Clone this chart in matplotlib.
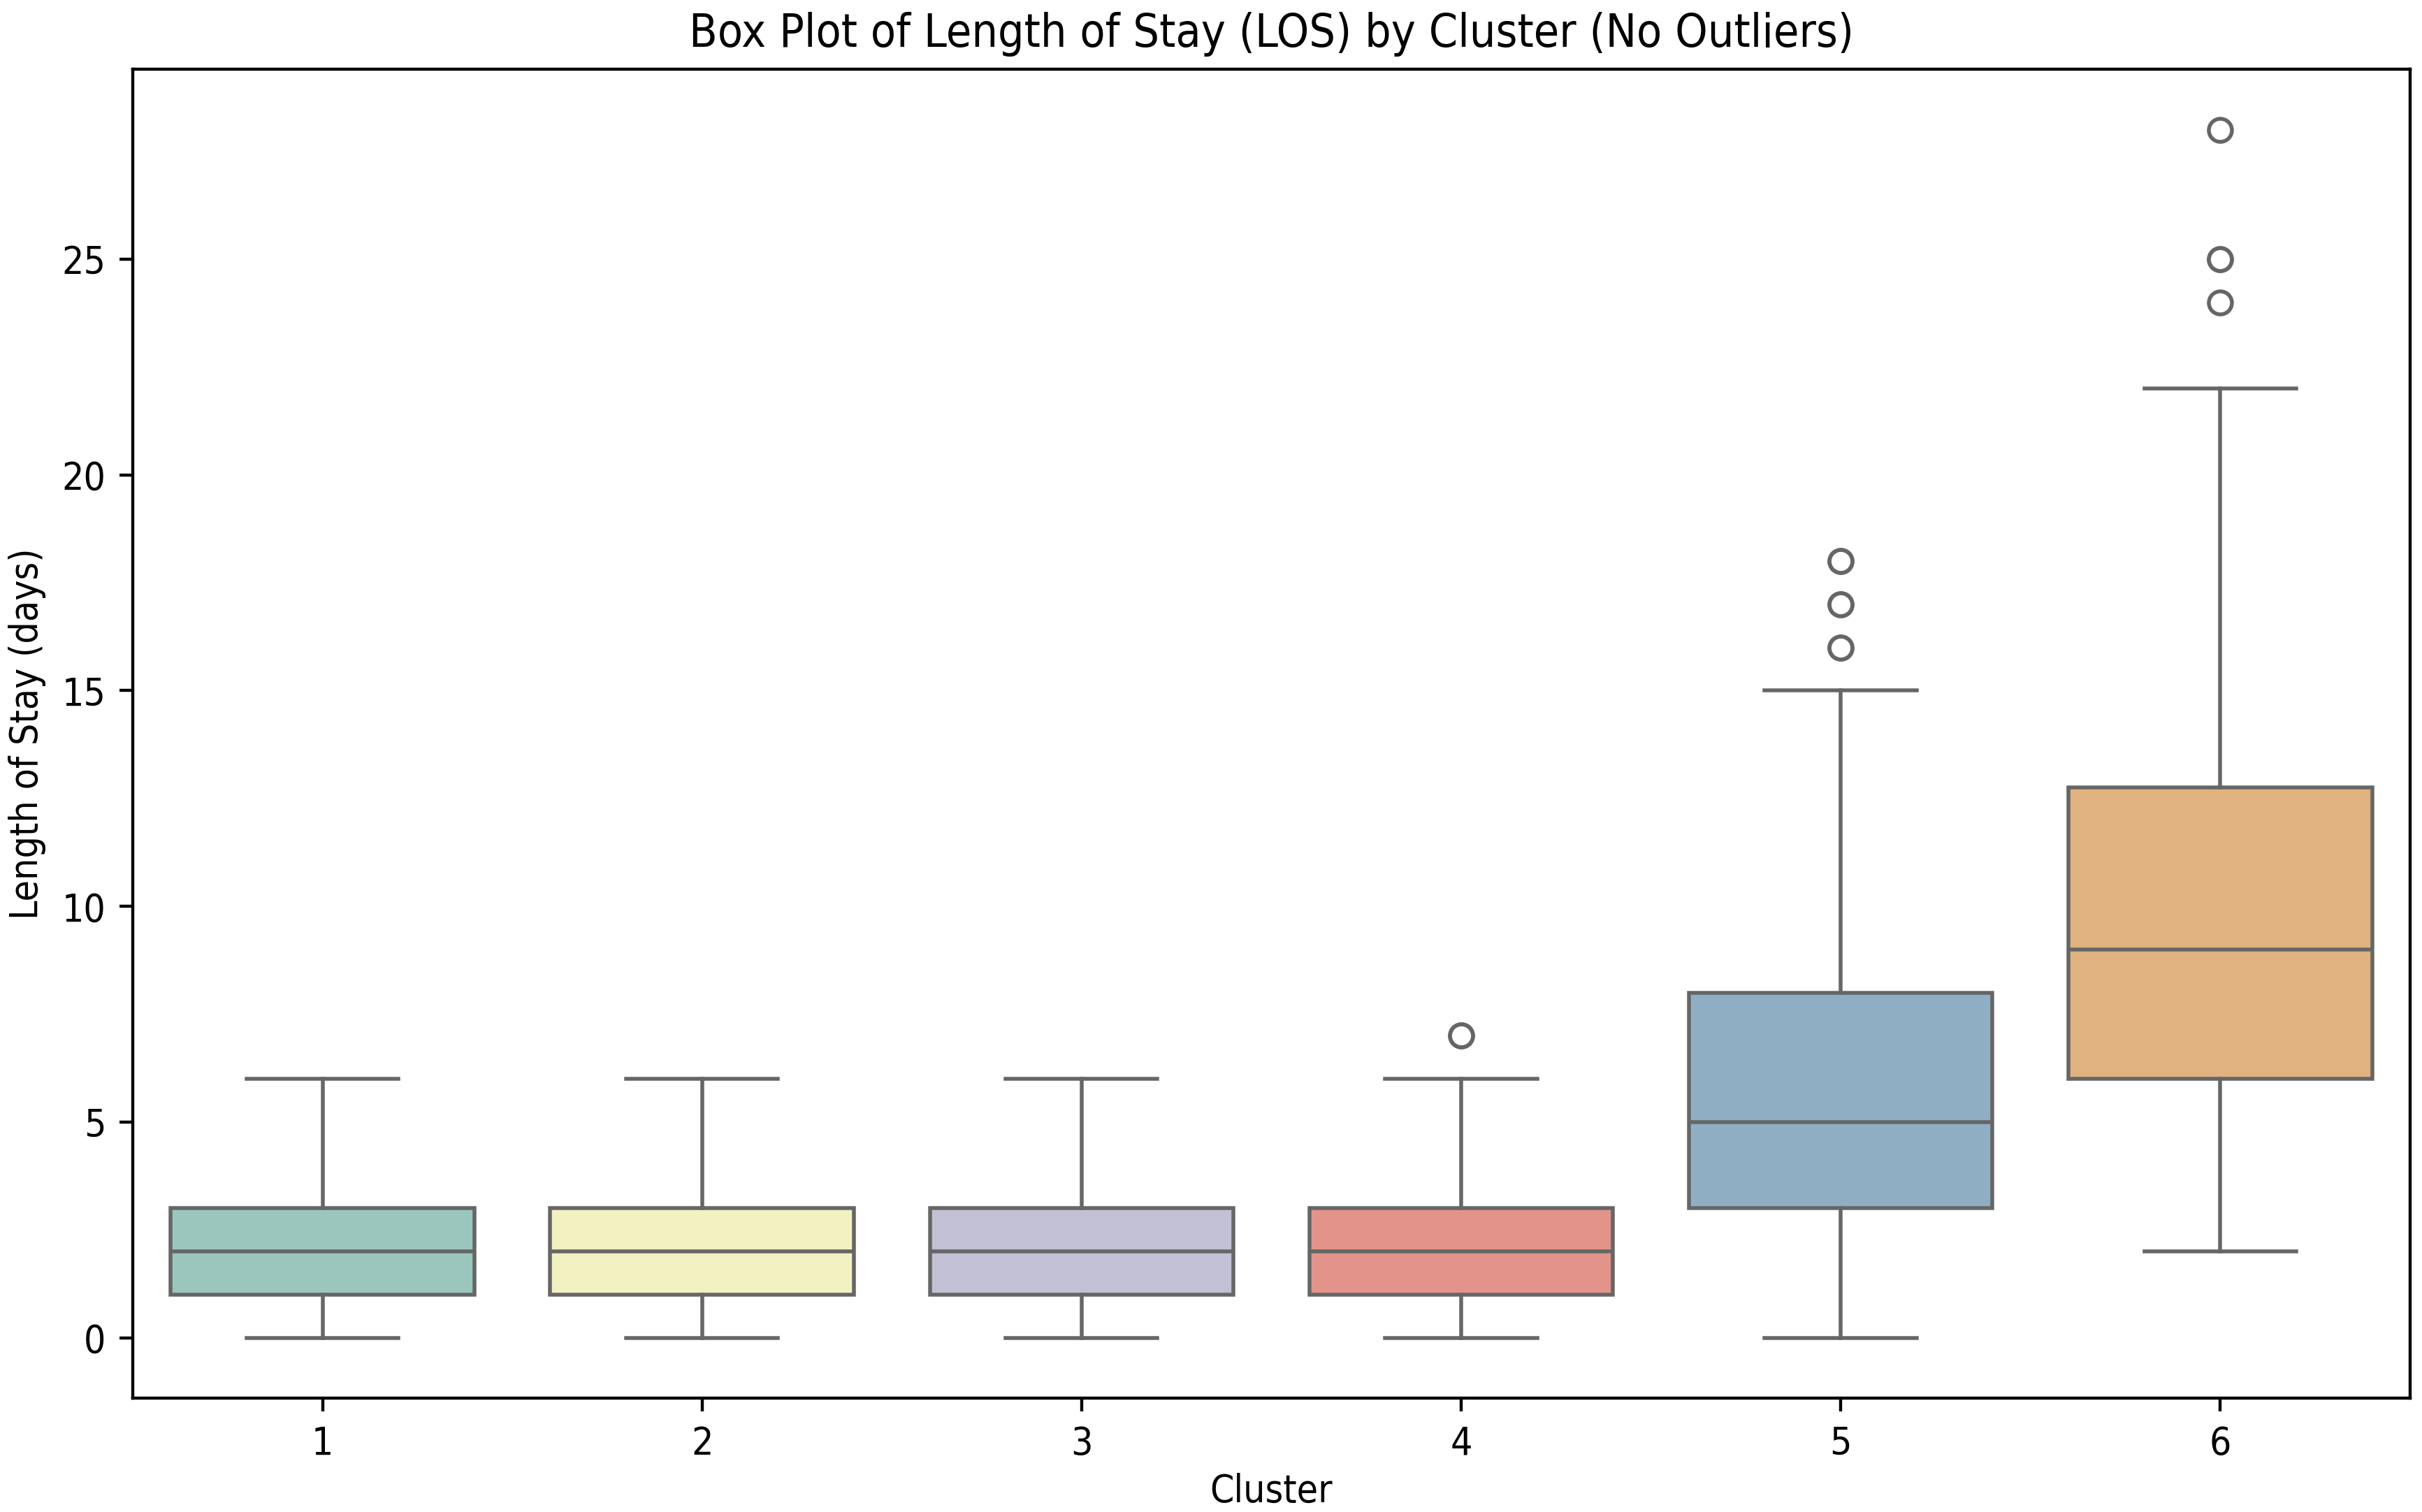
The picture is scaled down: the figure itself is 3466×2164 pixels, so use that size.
import matplotlib
matplotlib.use("Agg")
import matplotlib.pyplot as plt
import seaborn as sns
import colorsys
import matplotlib.colors as mcolors

# values (box stats per cluster)
clusters = ["1", "2", "3", "4", "5", "6"]
q1 = [1, 1, 1, 1, 3, 6]
med = [2, 2, 2, 2, 5, 9]
q3 = [3, 3, 3, 3, 8, 12.75]
whislo = [0, 0, 0, 0, 0, 2]
whishi = [6, 6, 6, 6, 15, 22]
fliers = [[], [], [], [7, 7], [16, 16, 17, 17, 18, 18], [24, 25, 25, 28]]

plt.rcParams['font.family'] = ['DejaVu Sans']
plt.rcParams['font.stretch'] = 'condensed'

# seaborn Set3 palette, a bit washed out like in the reference
palette = [sns.desaturate(c, 0.63) for c in sns.color_palette("Set3", len(clusters))]
lum = min(colorsys.rgb_to_hls(*mcolors.to_rgb(c))[1] for c in palette) * 0.6
linecolor = (lum, lum, lum)

stats = []
for i, name in enumerate(clusters):
    stats.append({
        "label": name,
        "q1": q1[i], "med": med[i], "q3": q3[i],
        "whislo": whislo[i], "whishi": whishi[i],
        "fliers": fliers[i],
    })

fig = plt.figure(figsize=(8.753, 5.465), dpi=396)
ax = fig.add_axes([0.0548, 0.0753, 0.9402, 0.8787])

bp = ax.bxp(
    stats, positions=range(len(clusters)), widths=0.8, capwidths=0.4,
    patch_artist=True, manage_ticks=False,
    boxprops=dict(edgecolor=linecolor, linewidth=1),
    whiskerprops=dict(color=linecolor, linewidth=1),
    capprops=dict(color=linecolor, linewidth=1),
    medianprops=dict(color=linecolor, linewidth=1),
    flierprops=dict(marker="o", markersize=6, markerfacecolor="none",
                    markeredgecolor=linecolor, markeredgewidth=1),
)
for patch, c in zip(bp["boxes"], palette):
    patch.set_facecolor(c)

ax.set_xticks(range(len(clusters)))
ax.set_xticklabels(clusters)
ax.set_xlim(-0.5, len(clusters) - 0.5)
ax.set_ylim(-1.4, 29.4)
ax.set_yticks([0, 5, 10, 15, 20, 25])

ax.set_title("Box Plot of Length of Stay (LOS) by Cluster (No Outliers)", fontsize=12)
ax.set_xlabel("Cluster", labelpad=2.5)
ax.set_ylabel("Length of Stay (days)")

fig.savefig("out.png", dpi=396)
